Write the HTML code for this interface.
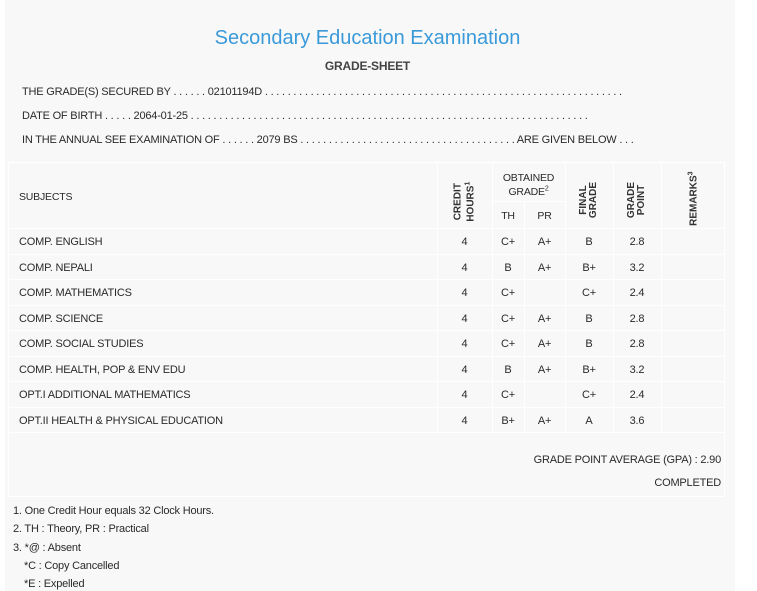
<!DOCTYPE html>
<html><head><style>
body{margin:0;width:757px;height:591px;background:#fff;position:relative;overflow:hidden;font-family:"Liberation Sans",sans-serif;color:#2a2a2a;}
.p{position:absolute;left:5px;top:0;width:730px;height:591px;background:#f8f8f8;}
.t{position:absolute;font-size:11px;white-space:nowrap;letter-spacing:-0.2px;margin-top:1px;}
.c{text-align:center;}
.hl{position:absolute;background:#fff;}
.vt{position:absolute;font-size:10px;font-weight:bold;transform:rotate(-90deg);transform-origin:center;white-space:nowrap;text-align:center;line-height:10px;color:#333;}
</style></head><body>
<div class="p"></div>
<div class="t c" style="left:0;width:735px;top:26px;font-size:20px;color:#3a9ad9;letter-spacing:0">Secondary Education Examination</div>
<div class="t c" style="left:0;width:735px;top:58px;font-size:12px;font-weight:bold;color:#444">GRADE-SHEET</div>
<div class="t" style="left:22px;top:85px">THE GRADE(S) SECURED BY . . . . . . 02101194D . . . . . . . . . . . . . . . . . . . . . . . . . . . . . . . . . . . . . . . . . . . . . . . . . . . . . . . . . . . . . . .</div>
<div class="t" style="left:22px;top:109px">DATE OF BIRTH . . . . . 2064-01-25 . . . . . . . . . . . . . . . . . . . . . . . . . . . . . . . . . . . . . . . . . . . . . . . . . . . . . . . . . . . . . . . . . . . . . .</div>
<div class="t" style="left:22px;top:133px">IN THE ANNUAL SEE EXAMINATION OF . . . . . . 2079 BS . . . . . . . . . . . . . . . . . . . . . . . . . . . . . . . . . . . . . . ARE GIVEN BELOW . . .</div>

<div class="hl" style="left:8px;top:162px;width:717px;height:1px"></div>
<div class="hl" style="left:492px;top:201px;width:73px;height:1px"></div>
<div class="hl" style="left:8px;top:228px;width:717px;height:1px"></div>
<div class="hl" style="left:8px;top:254px;width:717px;height:1px"></div>
<div class="hl" style="left:8px;top:279px;width:717px;height:1px"></div>
<div class="hl" style="left:8px;top:305px;width:717px;height:1px"></div>
<div class="hl" style="left:8px;top:330px;width:717px;height:1px"></div>
<div class="hl" style="left:8px;top:356px;width:717px;height:1px"></div>
<div class="hl" style="left:8px;top:381px;width:717px;height:1px"></div>
<div class="hl" style="left:8px;top:407px;width:717px;height:1px"></div>
<div class="hl" style="left:8px;top:432px;width:717px;height:1px"></div>
<div class="hl" style="left:8px;top:496px;width:717px;height:1px"></div>
<div class="hl" style="left:437px;top:162px;width:1px;height:270px"></div>
<div class="hl" style="left:492px;top:162px;width:1px;height:270px"></div>
<div class="hl" style="left:524px;top:201px;width:1px;height:231px"></div>
<div class="hl" style="left:565px;top:162px;width:1px;height:270px"></div>
<div class="hl" style="left:613px;top:162px;width:1px;height:270px"></div>
<div class="hl" style="left:661px;top:162px;width:1px;height:270px"></div>
<div class="hl" style="left:724px;top:162px;width:1px;height:334px"></div>
<div class="hl" style="left:8px;top:162px;width:1px;height:334px"></div>

<div class="t" style="left:19px;top:190px;font-size:10.5px">SUBJECTS</div>
<div class="vt" style="left:435px;top:190px;width:60px">CREDIT<br>HOURS<sup style="font-size:7px">1</sup></div>
<div class="t c" style="left:492px;width:73px;top:170px;font-size:10.5px;line-height:14px">OBTAINED<br>GRADE<sup style="font-size:7px;line-height:0">2</sup></div>
<div class="t c" style="left:492px;width:32px;top:209px;font-size:10.5px">TH</div>
<div class="t c" style="left:524px;width:41px;top:209px;font-size:10.5px">PR</div>
<div class="vt" style="left:559px;top:190px;width:60px">FINAL<br>GRADE</div>
<div class="vt" style="left:607px;top:190px;width:60px">GRADE<br>POINT</div>
<div class="vt" style="left:663px;top:192px;width:60px">REMARKS<sup style="font-size:7px">3</sup></div>

<div class="t" style="left:19px;top:235px">COMP. ENGLISH</div>
<div class="t" style="left:19px;top:261px">COMP. NEPALI</div>
<div class="t" style="left:19px;top:286px">COMP. MATHEMATICS</div>
<div class="t" style="left:19px;top:312px">COMP. SCIENCE</div>
<div class="t" style="left:19px;top:337px">COMP. SOCIAL STUDIES</div>
<div class="t" style="left:19px;top:363px">COMP. HEALTH, POP &amp; ENV EDU</div>
<div class="t" style="left:19px;top:388px">OPT.I ADDITIONAL MATHEMATICS</div>
<div class="t" style="left:19px;top:414px">OPT.II HEALTH &amp; PHYSICAL EDUCATION</div>

<div class="t c" style="left:437px;width:55px;top:235px">4</div>
<div class="t c" style="left:437px;width:55px;top:261px">4</div>
<div class="t c" style="left:437px;width:55px;top:286px">4</div>
<div class="t c" style="left:437px;width:55px;top:312px">4</div>
<div class="t c" style="left:437px;width:55px;top:337px">4</div>
<div class="t c" style="left:437px;width:55px;top:363px">4</div>
<div class="t c" style="left:437px;width:55px;top:388px">4</div>
<div class="t c" style="left:437px;width:55px;top:414px">4</div>

<div class="t c" style="left:492px;width:32px;top:235px">C+</div>
<div class="t c" style="left:492px;width:32px;top:261px">B</div>
<div class="t c" style="left:492px;width:32px;top:286px">C+</div>
<div class="t c" style="left:492px;width:32px;top:312px">C+</div>
<div class="t c" style="left:492px;width:32px;top:337px">C+</div>
<div class="t c" style="left:492px;width:32px;top:363px">B</div>
<div class="t c" style="left:492px;width:32px;top:388px">C+</div>
<div class="t c" style="left:492px;width:32px;top:414px">B+</div>

<div class="t c" style="left:524px;width:41px;top:235px">A+</div>
<div class="t c" style="left:524px;width:41px;top:261px">A+</div>
<div class="t c" style="left:524px;width:41px;top:312px">A+</div>
<div class="t c" style="left:524px;width:41px;top:337px">A+</div>
<div class="t c" style="left:524px;width:41px;top:363px">A+</div>
<div class="t c" style="left:524px;width:41px;top:414px">A+</div>

<div class="t c" style="left:565px;width:48px;top:235px">B</div>
<div class="t c" style="left:565px;width:48px;top:261px">B+</div>
<div class="t c" style="left:565px;width:48px;top:286px">C+</div>
<div class="t c" style="left:565px;width:48px;top:312px">B</div>
<div class="t c" style="left:565px;width:48px;top:337px">B</div>
<div class="t c" style="left:565px;width:48px;top:363px">B+</div>
<div class="t c" style="left:565px;width:48px;top:388px">C+</div>
<div class="t c" style="left:565px;width:48px;top:414px">A</div>

<div class="t c" style="left:613px;width:48px;top:235px">2.8</div>
<div class="t c" style="left:613px;width:48px;top:261px">3.2</div>
<div class="t c" style="left:613px;width:48px;top:286px">2.4</div>
<div class="t c" style="left:613px;width:48px;top:312px">2.8</div>
<div class="t c" style="left:613px;width:48px;top:337px">2.8</div>
<div class="t c" style="left:613px;width:48px;top:363px">3.2</div>
<div class="t c" style="left:613px;width:48px;top:388px">2.4</div>
<div class="t c" style="left:613px;width:48px;top:414px">3.6</div>

<div class="t" style="right:36px;top:453px">GRADE POINT AVERAGE (GPA) : 2.90</div>
<div class="t" style="right:36px;top:476px">COMPLETED</div>

<div class="t" style="left:13px;top:504px">1. One Credit Hour equals 32 Clock Hours.</div>
<div class="t" style="left:13px;top:522px">2. TH : Theory, PR : Practical</div>
<div class="t" style="left:13px;top:541px">3. *@ : Absent</div>
<div class="t" style="left:24px;top:559px">*C : Copy Cancelled</div>
<div class="t" style="left:24px;top:577px">*E : Expelled</div>
</body></html>
